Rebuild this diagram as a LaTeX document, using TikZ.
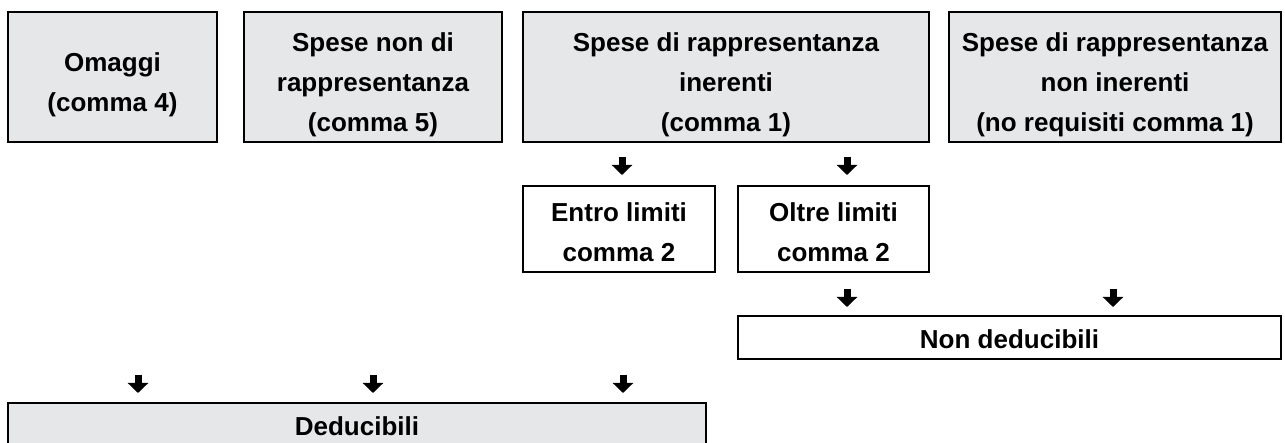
\documentclass[tikz,border=0pt]{standalone}
\usepackage{fontspec}
\setmainfont{Liberation Sans}
\usetikzlibrary{arrows.meta}
\definecolor{boxgray}{HTML}{E6E7E8}
\tikzset{
  graybox/.style={draw=black, line width=2.2pt, fill=boxgray, inner sep=0pt},
  whitebox/.style={draw=black, line width=2.2pt, fill=white, inner sep=0pt},
  boxtext/.style={align=center, font=\fontsize{26}{40}\selectfont\bfseries, inner sep=0pt},
  blockarrow/.style={line width=7pt, -{Triangle[width=20pt,length=10pt]}},
}
\begin{document}
\begin{tikzpicture}[x=1pt,y=-1pt]
\useasboundingbox (0,0) rectangle (1285,443);
\clip (0,0) rectangle (1285,443);
% top row
\node[graybox, minimum width=209pt, minimum height=130pt] (omaggi) at (112.5,77) {};
\node[graybox, minimum width=258pt, minimum height=130pt] (nonrapp) at (373,77) {};
\node[graybox, minimum width=406pt, minimum height=130pt] (inerenti) at (726,77) {};
\node[graybox, minimum width=332pt, minimum height=130pt] (noninerenti) at (1115,77) {};
\node[boxtext] (omaggi-t) at ([yshift=-8pt]omaggi.center) {Omaggi\\(comma 4)};
\node[boxtext] (nonrapp-t) at ([yshift=-8pt]nonrapp.center) {Spese non di\\rappresentanza\\(comma 5)};
\node[boxtext] (inerenti-t) at ([yshift=-8pt]inerenti.center) {Spese di rappresentanza\\inerenti\\(comma 1)};
\node[boxtext] (noninerenti-t) at ([yshift=-8pt]noninerenti.center) {Spese di rappresentanza\\non inerenti\\(no requisiti comma 1)};
% middle row
\node[whitebox, minimum width=192pt, minimum height=86pt] (entro) at (619,229) {};
\node[whitebox, minimum width=191pt, minimum height=86pt] (oltre) at (833.5,229) {};
\node[boxtext] (entro-t) at ([yshift=-3pt]entro.center) {Entro limiti\\comma 2};
\node[boxtext] (oltre-t) at ([yshift=-3pt]oltre.center) {Oltre limiti\\comma 2};
% result boxes
\node[whitebox, minimum width=543pt, minimum height=43pt] (nondeduc) at (1009.5,337.5) {};
\node[boxtext] (nondeduc-t) at ([yshift=-2pt]nondeduc.center) {Non deducibili};
\node[graybox, minimum width=698pt, minimum height=43pt] (deduc) at (357,424.5) {};
\node[boxtext] (deduc-t) at ([yshift=-2pt]deduc.center) {Deducibili};
% arrows
\coordinate (a1s) at (622,157); \coordinate (a1e) at (622,175);
\coordinate (a2s) at (847,157); \coordinate (a2e) at (847,175);
\coordinate (a3s) at (847,289); \coordinate (a3e) at (847,307);
\coordinate (a4s) at (1113,289); \coordinate (a4e) at (1113,307);
\coordinate (a5s) at (138,375); \coordinate (a5e) at (138,393);
\coordinate (a6s) at (373,375); \coordinate (a6e) at (373,393);
\coordinate (a7s) at (623,375); \coordinate (a7e) at (623,393);
\foreach \i in {1,...,7} {\draw[blockarrow] (a\i s) -- (a\i e);}
\end{tikzpicture}
\end{document}
